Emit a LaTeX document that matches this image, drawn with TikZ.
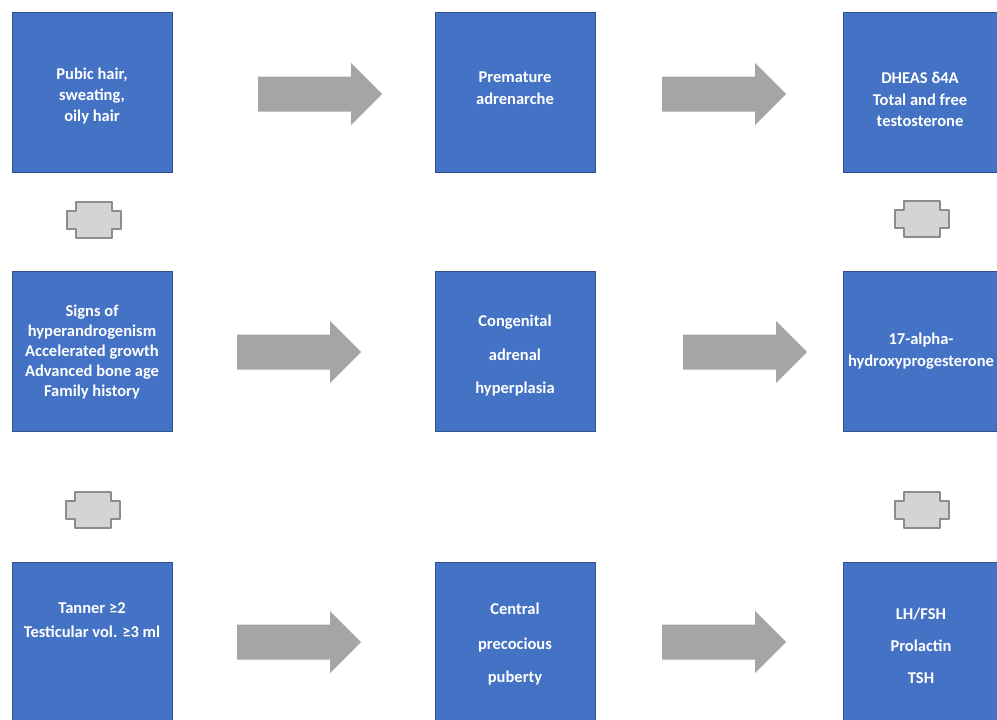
\documentclass[tikz,border=0pt]{standalone}
\usepackage{fontspec}
\setmainfont{Carlito}
\definecolor{boxblue}{HTML}{4472C4}
\definecolor{boxedge}{HTML}{2F528F}
\definecolor{arrowgray}{HTML}{A5A5A5}
\definecolor{crossfill}{HTML}{D4D4D4}
\definecolor{crossedge}{HTML}{8C8C8C}
\begin{document}
\begin{tikzpicture}[x=1pt,y=-1pt,
  box/.style={rectangle,draw=boxedge,line width=1pt,fill=boxblue,minimum width=160pt,minimum height=160pt,inner sep=0pt},
  txt/.style={text=white,font=\fontsize{16.5}{20}\selectfont\bfseries,align=center,inner sep=0pt},
  blockarrow/.pic={\fill[arrowgray] (0,-17.5) -- (93,-17.5) -- (93,-31) -- (124,0) -- (93,31) -- (93,17.5) -- (0,17.5) -- cycle;},
  plusshape/.pic={\draw[crossedge,fill=crossfill,line width=1.6pt,line join=round] (-18,-18) -- (18,-18) -- (18,-9) -- (27,-9) -- (27,9) -- (18,9) -- (18,18) -- (-18,18) -- (-18,9) -- (-27,9) -- (-27,-9) -- (-18,-9) -- cycle;}]
\useasboundingbox (0,0) rectangle (997,720);
\fill[white] (0,0) rectangle (997,720);
% boxes
\node[box] (tl) at (92,92) {};
\node[box] (tc) at (515,92) {};
\node[box] (tr) at (923,92) {};
\node[box] (ml) at (92,351) {};
\node[box] (mc) at (515,351) {};
\node[box] (mr) at (923,351) {};
\node[box] (bl) at (92,642) {};
\node[box] (bc) at (515,642) {};
\node[box] (br) at (923,642) {};
% texts
\node[txt] (tlt) at (92,96) {Pubic hair,\\[1pt]sweating,\\[1pt]oily hair};
\node[txt] (tct) at (515,88) {Premature\\[2pt]adrenarche};
\node[txt] (trt) at (920,99) {DHEAS δ4A\\[2pt]Total and free\\[1pt]testosterone};
\node[txt] (mlt) at (92,352) {Signs of\\hyperandrogenism\\Accelerated growth\\Advanced bone age\\Family history};
\node[txt] (mct) at (515,356) {Congenital\\[14pt]adrenal\\[13pt]hyperplasia};
\node[txt] (mrt) at (921,351) {17-alpha-\\[2pt]hydroxyprogesterone};
\node[txt] (blt) at (92,620) {Tanner ≥2\\[4pt]Testicular vol. ≥3 ml};
\node[txt] (bct) at (515,644) {Central\\[15pt]precocious\\[13pt]puberty};
\node[txt] (brt) at (921,646) {LH/FSH\\[12pt]Prolactin\\[12pt]TSH};
% block arrows
\pic (a1) at (258,94) {blockarrow};
\pic (a2) at (662,94) {blockarrow};
\pic (a3) at (237,352) {blockarrow};
\pic (a4) at (683,352) {blockarrow};
\pic (a5) at (237,642) {blockarrow};
\pic (a6) at (662,642) {blockarrow};
% plus shapes
\pic (p1) at (94,220) {plusshape};
\pic (p2) at (922,219) {plusshape};
\pic (p3) at (93,510) {plusshape};
\pic (p4) at (922,510) {plusshape};
\end{tikzpicture}
\end{document}
